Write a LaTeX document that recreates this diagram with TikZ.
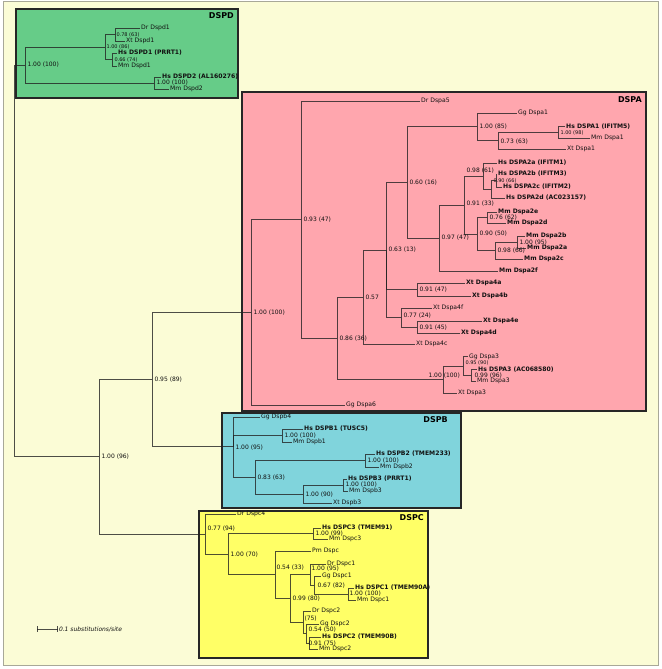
\documentclass[tikz,border=0pt]{standalone}
\usepackage{fontspec}
\setmainfont{DejaVu Sans}
\definecolor{bgc}{HTML}{FBFCD6}
\definecolor{framec}{HTML}{A8A898}
\definecolor{dspdc}{HTML}{66CC88}
\definecolor{dspac}{HTML}{FFA6AE}
\definecolor{dspbc}{HTML}{80D4DC}
\definecolor{dspcc}{HTML}{FFFF66}
\definecolor{linec}{HTML}{222222}
\definecolor{txtc}{HTML}{111111}
\tikzset{
  leaf/.style={anchor=west, inner sep=1pt, text=txtc, font=\fontsize{6.1}{7}\selectfont},
  hs/.style={leaf, font=\fontsize{6.1}{7}\selectfont\bfseries},
  lab/.style={anchor=west, inner sep=0.3pt, text=txtc, font=\fontsize{6}{7}\selectfont},
  slab/.style={lab, font=\fontsize{5}{6}\selectfont},
  br/.style={draw=linec, draw opacity=0.8, line width=0.8pt},
  clade/.style={draw=black!85, line width=1.3pt},
  cladename/.style={anchor=north east, inner sep=0pt, text=black, font=\fontsize{8}{9}\selectfont\bfseries}
}
\begin{document}
\begin{tikzpicture}[x=1pt,y=-1pt]
\useasboundingbox (0,0) rectangle (661,669);
\fill[white] (0,0) rectangle (661,669);
\draw[framec, fill=bgc, line width=1pt] (3,2) rectangle (658,665);
% clade boxes
\draw[clade, fill=dspdc] (16,9) rectangle (238,98);
\draw[clade, fill=dspac] (242,92) rectangle (646,411);
\draw[clade, fill=dspbc] (222,413) rectangle (461,508);
\draw[clade, fill=dspcc] (199,511) rectangle (428,658);
\node[cladename] (nD) at (234,12) {DSPD};
\node[cladename] (nA) at (642,96) {DSPA};
\node[cladename] (nB) at (448,416) {DSPB};
\node[cladename] (nC) at (424,514) {DSPC};
% internal nodes
\coordinate (R) at (14,260.9);
\coordinate (D0) at (25,65);
\coordinate (D86) at (105,47);
\coordinate (D78) at (115,34.5);
\coordinate (D66) at (112,59.5);
\coordinate (D2) at (154,83);
\coordinate (N96) at (99,456.7);
\coordinate (N89) at (152,379.4);
\coordinate (A100) at (251,312.3);
\coordinate (A93) at (301,219.6);
\coordinate (A86) at (337,338.3);
\coordinate (A57) at (363,297);
\coordinate (A63) at (386,250);
\coordinate (A60) at (407,182.5);
\coordinate (A85) at (477,126.75);
\coordinate (A73) at (498,140.5);
\coordinate (A98b) at (558,132.25);
\coordinate (A97) at (439,238);
\coordinate (A91) at (464,205);
\coordinate (A98) at (483,176);
\coordinate (AN) at (491,189.25);
\coordinate (A90b) at (496,180.5);
\coordinate (A90) at (477,234);
\coordinate (A76) at (487,217.5);
\coordinate (A98c) at (495,250.5);
\coordinate (A95) at (517,242);
\coordinate (A4ab) at (417,289.5);
\coordinate (A77) at (401,317.5);
\coordinate (A45) at (417,327);
\coordinate (A3) at (443,379.5);
\coordinate (A95b) at (463,366);
\coordinate (A99) at (471,375);
\coordinate (B95) at (233,446.75);
\coordinate (B1) at (282,435.5);
\coordinate (B83) at (255,477.25);
\coordinate (B2) at (365,460.5);
\coordinate (B90) at (303,494);
\coordinate (B3) at (343,485);
\coordinate (C77) at (205,534);
\coordinate (C70) at (228,554);
\coordinate (C99) at (313,533.5);
\coordinate (C54) at (275,574.5);
\coordinate (C99b) at (290,598.25);
\coordinate (C95) at (310,574.5);
\coordinate (C67) at (314,585);
\coordinate (C100) at (348,594);
\coordinate (C75) at (303,622.25);
\coordinate (C54b) at (306,633.5);
\coordinate (C91) at (309,643);
% leaves
\node[leaf] (lDrD1) at (140,28) {Dr Dspd1};
\node[leaf] (lXtD1) at (125,41) {Xt Dspd1};
\node[hs] (lHsD1) at (117,53) {Hs DSPD1 (PRRT1)};
\node[leaf] (lMmD1) at (117,66) {Mm Dspd1};
\node[hs] (lHsD2) at (161,77) {Hs DSPD2 (AL160276)};
\node[leaf] (lMmD2) at (169,89) {Mm Dspd2};
\node[leaf] (lDrA5) at (420,101) {Dr Dspa5};
\node[leaf] (lGgA1) at (517,113) {Gg Dspa1};
\node[hs] (lHsA1) at (565,126.5) {Hs DSPA1 (IFITM5)};
\node[leaf] (lMmA1) at (590,138) {Mm Dspa1};
\node[leaf] (lXtA1) at (566,149) {Xt Dspa1};
\node[hs] (lHsA2a) at (497,163) {Hs DSPA2a (IFITM1)};
\node[hs] (lHsA2b) at (497,174) {Hs DSPA2b (IFITM3)};
\node[hs] (lHsA2c) at (502,187) {Hs DSPA2c (IFITM2)};
\node[hs] (lHsA2d) at (505,198) {Hs DSPA2d (AC023157)};
\node[hs] (lMmA2e) at (497,212) {Mm Dspa2e};
\node[hs] (lMmA2d) at (506,223) {Mm Dspa2d};
\node[hs] (lMmA2b) at (525,236) {Mm Dspa2b};
\node[hs] (lMmA2a) at (526,248) {Mm Dspa2a};
\node[hs] (lMmA2c) at (523,259) {Mm Dspa2c};
\node[hs] (lMmA2f) at (498,271) {Mm Dspa2f};
\node[hs] (lXtA4a) at (465,283) {Xt Dspa4a};
\node[hs] (lXtA4b) at (471,296) {Xt Dspa4b};
\node[leaf] (lXtA4f) at (432,308) {Xt Dspa4f};
\node[hs] (lXtA4e) at (482,321) {Xt Dspa4e};
\node[hs] (lXtA4d) at (460,333) {Xt Dspa4d};
\node[leaf] (lXtA4c) at (415,344) {Xt Dspa4c};
\node[leaf] (lGgA3) at (468,356.5) {Gg Dspa3};
\node[hs] (lHsA3) at (477,369.5) {Hs DSPA3 (AC068580)};
\node[leaf] (lMmA3) at (476,381) {Mm Dspa3};
\node[leaf] (lXtA3) at (457,393) {Xt Dspa3};
\node[leaf] (lGgA6) at (345,405) {Gg Dspa6};
\node[leaf] (lGgB4) at (260,417) {Gg Dspb4};
\node[hs] (lHsB1) at (303,429) {Hs DSPB1 (TUSC5)};
\node[leaf] (lMmB1) at (292,442) {Mm Dspb1};
\node[hs] (lHsB2) at (375,454) {Hs DSPB2 (TMEM233)};
\node[leaf] (lMmB2) at (379,467) {Mm Dspb2};
\node[hs] (lHsB3) at (347,479) {Hs DSPB3 (PRRT1)};
\node[leaf] (lMmB3) at (348,491) {Mm Dspb3};
\node[leaf] (lXtB3) at (332,503) {Xt Dspb3};
\node[leaf] (lDrC4) at (236,514) {Dr Dspc4};
\node[hs] (lHsC3) at (321,528) {Hs DSPC3 (TMEM91)};
\node[leaf] (lMmC3) at (328,539) {Mm Dspc3};
\node[leaf] (lPmC) at (311,551) {Pm Dspc};
\node[leaf] (lDrC1) at (326,564) {Dr Dspc1};
\node[leaf] (lGgC1) at (321,576) {Gg Dspc1};
\node[hs] (lHsC1) at (354,588) {Hs DSPC1 (TMEM90A)};
\node[leaf] (lMmC1) at (356,600) {Mm Dspc1};
\node[leaf] (lDrC2) at (311,611) {Dr Dspc2};
\node[leaf] (lGgC2) at (319,624) {Gg Dspc2};
\node[hs] (lHsC2) at (321,637) {Hs DSPC2 (TMEM90B)};
\node[leaf] (lMmC2) at (318,649) {Mm Dspc2};
% branches
\draw[br] (R) |- (D0); \draw[br] (R) |- (N96);
\draw[br] (D0) |- (D86); \draw[br] (D0) |- (D2);
\draw[br] (D86) |- (D78); \draw[br] (D86) |- (D66);
\draw[br] (D78) |- (lDrD1.west); \draw[br] (D78) |- (lXtD1.west);
\draw[br] (D66) |- (lHsD1.west); \draw[br] (D66) |- (lMmD1.west);
\draw[br] (D2) |- (lHsD2.west); \draw[br] (D2) |- (lMmD2.west);
\draw[br] (N96) |- (N89); \draw[br] (N96) |- (C77);
\draw[br] (N89) |- (A100); \draw[br] (N89) |- (B95);
\draw[br] (A100) |- (A93); \draw[br] (A100) |- (lGgA6.west);
\draw[br] (A93) |- (lDrA5.west); \draw[br] (A93) |- (A86);
\draw[br] (A86) |- (A57); \draw[br] (A86) |- (A3);
\draw[br] (A57) |- (A63); \draw[br] (A57) |- (lXtA4c.west);
\draw[br] (A63) |- (A60); \draw[br] (A63) |- (A4ab); \draw[br] (A63) |- (A77);
\draw[br] (A60) |- (A85); \draw[br] (A60) |- (A97);
\draw[br] (A85) |- (lGgA1.west); \draw[br] (A85) |- (A73);
\draw[br] (A73) |- (A98b); \draw[br] (A73) |- (lXtA1.west);
\draw[br] (A98b) |- (lHsA1.west); \draw[br] (A98b) |- (lMmA1.west);
\draw[br] (A97) |- (A91); \draw[br] (A97) |- (lMmA2f.west);
\draw[br] (A91) |- (A98); \draw[br] (A91) |- (A90);
\draw[br] (A98) |- (lHsA2a.west); \draw[br] (A98) |- (AN);
\draw[br] (AN) |- (A90b); \draw[br] (AN) |- (lHsA2d.west);
\draw[br] (A90b) |- (lHsA2b.west); \draw[br] (A90b) |- (lHsA2c.west);
\draw[br] (A90) |- (A76); \draw[br] (A90) |- (A98c);
\draw[br] (A76) |- (lMmA2e.west); \draw[br] (A76) |- (lMmA2d.west);
\draw[br] (A98c) |- (A95); \draw[br] (A98c) |- (lMmA2c.west);
\draw[br] (A95) |- (lMmA2b.west); \draw[br] (A95) |- (lMmA2a.west);
\draw[br] (A4ab) |- (lXtA4a.west); \draw[br] (A4ab) |- (lXtA4b.west);
\draw[br] (A77) |- (lXtA4f.west); \draw[br] (A77) |- (A45);
\draw[br] (A45) |- (lXtA4e.west); \draw[br] (A45) |- (lXtA4d.west);
\draw[br] (A3) |- (A95b); \draw[br] (A3) |- (lXtA3.west);
\draw[br] (A95b) |- (lGgA3.west); \draw[br] (A95b) |- (A99);
\draw[br] (A99) |- (lHsA3.west); \draw[br] (A99) |- (lMmA3.west);
\draw[br] (B95) |- (lGgB4.west); \draw[br] (B95) |- (B1); \draw[br] (B95) |- (B83);
\draw[br] (B1) |- (lHsB1.west); \draw[br] (B1) |- (lMmB1.west);
\draw[br] (B83) |- (B2); \draw[br] (B83) |- (B90);
\draw[br] (B2) |- (lHsB2.west); \draw[br] (B2) |- (lMmB2.west);
\draw[br] (B90) |- (B3); \draw[br] (B90) |- (lXtB3.west);
\draw[br] (B3) |- (lHsB3.west); \draw[br] (B3) |- (lMmB3.west);
\draw[br] (C77) |- (lDrC4.west); \draw[br] (C77) |- (C70);
\draw[br] (C70) |- (C99); \draw[br] (C70) |- (C54);
\draw[br] (C99) |- (lHsC3.west); \draw[br] (C99) |- (lMmC3.west);
\draw[br] (C54) |- (lPmC.west); \draw[br] (C54) |- (C99b);
\draw[br] (C99b) |- (C95); \draw[br] (C99b) |- (C75);
\draw[br] (C95) |- (lDrC1.west); \draw[br] (C95) |- (C67);
\draw[br] (C67) |- (lGgC1.west); \draw[br] (C67) |- (C100);
\draw[br] (C100) |- (lHsC1.west); \draw[br] (C100) |- (lMmC1.west);
\draw[br] (C75) |- (lDrC2.west); \draw[br] (C75) |- (C54b);
\draw[br] (C54b) |- (lGgC2.west); \draw[br] (C54b) |- (C91);
\draw[br] (C91) |- (lHsC2.west); \draw[br] (C91) |- (lMmC2.west);
% support labels
\node[lab] (tD0) at (27,65) {1.00 (100)};
\node[slab] (tD86) at (106,47) {1.00 (86)};
\node[slab] (tD78) at (116,34.5) {0.78 (63)};
\node[slab] (tD66) at (114,59.5) {0.66 (74)};
\node[lab] (tD2) at (156,83) {1.00 (100)};
\node[lab] (tN96) at (101,456.7) {1.00 (96)};
\node[lab] (tN89) at (154,379.4) {0.95 (89)};
\node[lab] (tA100) at (253,312.3) {1.00 (100)};
\node[lab] (tA93) at (303,219.6) {0.93 (47)};
\node[lab] (tA86) at (339,338.3) {0.86 (36)};
\node[lab] (tA57) at (365,297) {0.57};
\node[lab] (tA63) at (388,250) {0.63 (13)};
\node[lab] (tA60) at (409,182.5) {0.60 (16)};
\node[lab] (tA85) at (479,126.75) {1.00 (85)};
\node[lab] (tA73) at (500,141.5) {0.73 (63)};
\node[slab] (tA98b) at (560,133) {1.00 (98)};
\node[lab] (tA97) at (441,238) {0.97 (47)};
\node[lab] (tA91) at (466,204) {0.91 (33)};
\node[lab] (tA98) at (466,170.5) {0.98 (61)};
\node[slab] (tA90b) at (493,181) {0.90 (66)};
\node[lab] (tA90) at (479,234) {0.90 (50)};
\node[lab] (tA76) at (489,218) {0.76 (62)};
\node[lab] (tA98c) at (497,251) {0.98 (66)};
\node[lab] (tA95) at (519,242.5) {1.00 (95)};
\node[lab] (tA4ab) at (419,290) {0.91 (47)};
\node[lab] (tA77) at (403,316) {0.77 (24)};
\node[lab] (tA45) at (419,328) {0.91 (45)};
\node[lab] (tA3) at (428,376) {1.00 (100)};
\node[slab] (tA95b) at (465,363) {0.95 (90)};
\node[lab] (tA99) at (474,376) {0.99 (96)};
\node[lab] (tB95) at (235,447.5) {1.00 (95)};
\node[lab] (tB1) at (284,436) {1.00 (100)};
\node[lab] (tB83) at (257,477.5) {0.83 (63)};
\node[lab] (tB2) at (367,461) {1.00 (100)};
\node[lab] (tB90) at (305,494.5) {1.00 (90)};
\node[lab] (tB3) at (345,485) {1.00 (100)};
\node[lab] (tC77) at (207,529) {0.77 (94)};
\node[lab] (tC70) at (230,555) {1.00 (70)};
\node[lab] (tC99) at (315,534) {1.00 (99)};
\node[lab] (tC54) at (276,568) {0.54 (33)};
\node[lab] (tC95) at (311,568.5) {1.00 (95)};
\node[lab] (tC67) at (317,585.5) {0.67 (82)};
\node[lab] (tC99b) at (292,599) {0.99 (80)};
\node[lab] (tC100) at (349,594) {1.00 (100)};
\node[lab] (tC75) at (304,619) {(75)};
\node[lab] (tC54b) at (308,630) {0.54 (50)};
\node[lab] (tC91) at (308,644) {0.91 (75)};
% scale bar
\coordinate (sb1) at (37,629);
\coordinate (sb2) at (58,629);
\draw[br, line width=0.6pt, |-|] (sb1) -- (sb2);
\node[lab, anchor=west, font=\fontsize{6}{7}\selectfont\itshape] (sbt) at (58.5,629) {0.1 substitutions/site};
\end{tikzpicture}
\end{document}
